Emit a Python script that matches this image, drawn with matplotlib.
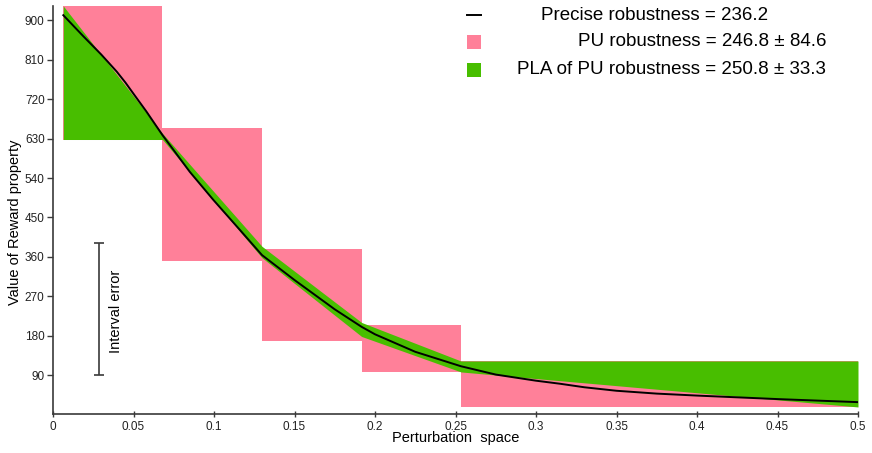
import numpy as np
import matplotlib
matplotlib.use('Agg')
from matplotlib import pyplot as plt
from matplotlib.lines import Line2D
from matplotlib.patches import Rectangle

plt.rcParams['font.family'] = ['Liberation Sans', 'DejaVu Sans']

# PU interval boxes (perturbation segments)
seg_edges = [0.0064, 0.068, 0.1298, 0.1917, 0.2534, 0.5]
pu_low = [628, 350, 168, 96, 17]
pu_high = [933, 654, 379, 204, 122]

# PLA of PU: piecewise linear upper / lower bounds at the segment edges
pla_upper = [933, 642, 384, 210, 122, 122]
pla_lower = [628, 628, 358, 178, 97, 17]

# precise reward curve
prec_x = [0.0064, 0.0188, 0.03, 0.0396, 0.045, 0.0499, 0.058, 0.068, 0.085,
          0.0996, 0.115, 0.1298, 0.1447, 0.15, 0.175, 0.1917, 0.2, 0.225,
          0.2534, 0.275, 0.3, 0.315, 0.33, 0.35, 0.375, 0.4, 0.45, 0.5]
prec_y = [912, 864, 822, 783, 758, 733, 692, 638, 554,
          490, 426, 364, 322, 307, 240, 200, 183, 143,
          110, 91, 77, 70, 62, 54, 47.5, 43, 35, 28]

# interval error bar
err_x = 0.0286
err_lo, err_hi = 90, 392

labels = ['Precise robustness = 236.2',
          'PU robustness = 246.8 \u00b1 84.6',
          'PLA of PU robustness = 250.8 \u00b1 33.3']

x_ticks = [0, 0.05, 0.1, 0.15, 0.2, 0.25, 0.3, 0.35, 0.4, 0.45, 0.5]
x_ticklabels = ['0', '0.05', '0.1', '0.15', '0.2', '0.25', '0.3', '0.35', '0.4', '0.45', '0.5']
y_ticks = list(range(90, 901, 90))

pink = '#ff8099'
green = '#48be00'
axis_col = '#3a3a3a'

W, H = 872, 453
fig = plt.figure(figsize=(W / 100, H / 100), dpi=100)
ax = fig.add_axes([53 / W, 1 - 414.4 / H, (858 - 53) / W, (414.4 - 6) / H])

# pink PU boxes
for i in range(len(pu_low)):
    ax.fill_between([seg_edges[i], seg_edges[i + 1]], pu_low[i], pu_high[i],
                    color=pink, linewidth=0)

# green PLA band
ax.fill_between(seg_edges, pla_lower, pla_upper, color=green, linewidth=0)

# precise curve
ax.plot(prec_x, prec_y, color='black', linewidth=1.4)

# interval error bar
ax.errorbar([err_x], [(err_lo + err_hi) / 2], yerr=[[(err_hi - err_lo) / 2]],
            color=axis_col, capsize=3.6, elinewidth=1.2, capthick=1.2, fmt='none')
ax.text(0.0391, 235, 'Interval error', rotation=90,
        ha='center', va='center', fontsize=10.5)

ax.set_xlim(0, 0.5)
ax.set_ylim(0, 933)
ax.set_xticks(x_ticks)
ax.set_xticklabels(x_ticklabels)
ax.set_yticks(y_ticks)
for s in ['top', 'right']:
    ax.spines[s].set_visible(False)
for s in ['left', 'bottom']:
    ax.spines[s].set_color(axis_col)
    ax.spines[s].set_linewidth(1.2)
ax.tick_params(axis='x', direction='inout', length=5, width=1, color=axis_col,
               labelsize=8.5, labelcolor='#222222', pad=2)
ax.tick_params(axis='y', direction='out', length=4, width=1, color=axis_col,
               labelsize=8.5, labelcolor='#222222', pad=2)

ax.set_xlabel('Perturbation  space', fontsize=10.5)
ax.set_ylabel('Value of Reward property', fontsize=10.5)
ax.xaxis.set_label_coords(0.5, -(438 - 414.4) / 408.4)
ax.yaxis.set_label_coords(-(53 - 15) / 805, (414.4 - 222) / 408.4)
ax.xaxis.label.set_va('center')
ax.yaxis.label.set_va('center')

# legend drawn by hand in figure pixel coords
def fx(px):
    return px / W

def fy(py):
    return 1 - py / H

rows = [15, 42, 70]
fig.add_artist(Line2D([fx(467), fx(481)], [fy(rows[0]), fy(rows[0])],
                      color='black', linewidth=1.4))
fig.add_artist(Rectangle((fx(467), fy(rows[1] + 7)), 14 / W, 14 / H,
                         color=pink, linewidth=0))
fig.add_artist(Rectangle((fx(467), fy(rows[2] + 7)), 14 / W, 14 / H,
                         color=green, linewidth=0))
text_right = [768, 826, 826]
for lab, r, xr in zip(labels, rows, text_right):
    fig.text(fx(xr), fy(r), lab, ha='right', va='center', fontsize=13.5)

fig.savefig('out.png', dpi=100)
